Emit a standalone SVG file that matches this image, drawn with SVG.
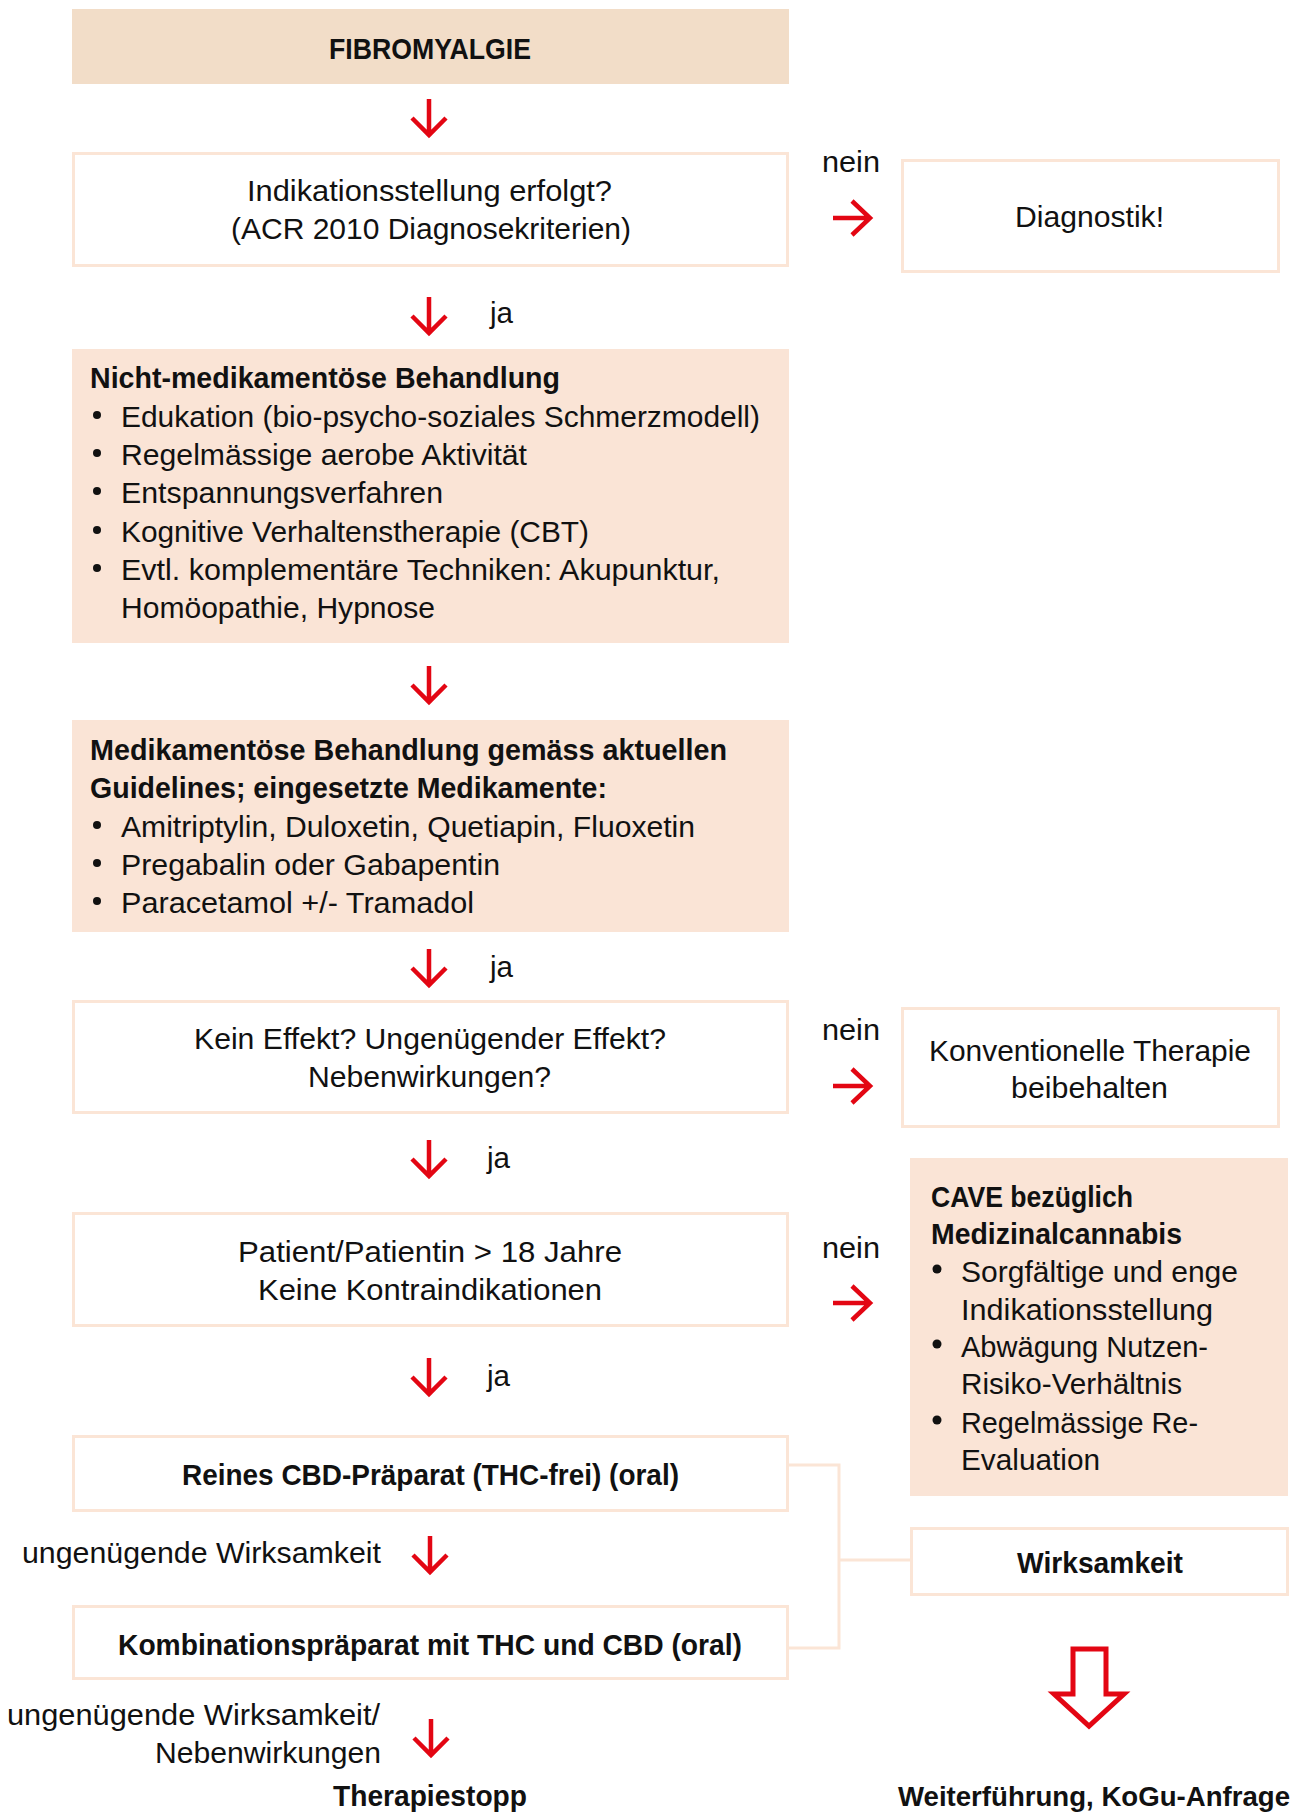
<svg xmlns="http://www.w3.org/2000/svg" xmlns:xlink="http://www.w3.org/1999/xlink" width="1305" height="1818" viewBox="0 0 1305 1818">
<style>
.t{font-family:"Liberation Sans",Arial,sans-serif;font-size:30px;fill:#111}
.b{font-weight:bold}
.box{fill:#fff;stroke:#fbe5d6;stroke-width:3}
.fill{fill:#fae4d6}
.head{fill:#f2ddc8}
.con{fill:none;stroke:#fbe5d6;stroke-width:3}
.arr{fill:none;stroke:#e30613;stroke-width:4.5}
.dot{fill:#111}
</style>
<defs>
<path id="ad" d="M0,0 V36 M-17,19 L0,36 L17,19"/>
<path id="ar" d="M0,0 H37 M19,-17 L37,0 L19,17"/>
</defs>
<rect width="1305" height="1818" fill="#fff"/>

<g id="connectors">
<polyline class="con" points="789,1465 839,1465 839,1648 789,1648"/>
<line class="con" x1="839" y1="1560" x2="911" y2="1560"/>
<g class="arr">
<use xlink:href="#ad" x="429" y="99"/>
<use xlink:href="#ad" x="429" y="297"/>
<use xlink:href="#ad" x="429" y="666"/>
<use xlink:href="#ad" x="429" y="949"/>
<use xlink:href="#ad" x="429" y="1140"/>
<use xlink:href="#ad" x="429" y="1358"/>
<use xlink:href="#ad" x="430" y="1536"/>
<use xlink:href="#ad" x="431" y="1719"/>
<use xlink:href="#ar" x="833" y="218"/>
<use xlink:href="#ar" x="833" y="1086"/>
<use xlink:href="#ar" x="833" y="1303"/>
</g>
<polygon points="1073,1649 1106,1649 1106,1694 1124,1694 1089,1726 1054,1694 1073,1694" fill="#fff" stroke="#e30613" stroke-width="5"/>
<text class="t" x="822" y="172" textLength="58" lengthAdjust="spacingAndGlyphs">nein</text>
<text class="t" x="490" y="323" textLength="23" lengthAdjust="spacingAndGlyphs">ja</text>
<text class="t" x="490" y="977" textLength="23" lengthAdjust="spacingAndGlyphs">ja</text>
<text class="t" x="822" y="1040" textLength="58" lengthAdjust="spacingAndGlyphs">nein</text>
<text class="t" x="487" y="1168" textLength="23" lengthAdjust="spacingAndGlyphs">ja</text>
<text class="t" x="822" y="1258" textLength="58" lengthAdjust="spacingAndGlyphs">nein</text>
<text class="t" x="487" y="1386" textLength="23" lengthAdjust="spacingAndGlyphs">ja</text>
<text class="t" x="22" y="1563" textLength="359" lengthAdjust="spacingAndGlyphs">ungenügende Wirksamkeit</text>
<text class="t" x="7" y="1725" textLength="373" lengthAdjust="spacingAndGlyphs">ungenügende Wirksamkeit/</text>
<text class="t" x="155" y="1763" textLength="226" lengthAdjust="spacingAndGlyphs">Nebenwirkungen</text>
</g>

<g id="fibromyalgie">
<rect class="head" x="72" y="9" width="717" height="75"/>
<text class="t b" x="329" y="59" textLength="202" lengthAdjust="spacingAndGlyphs">FIBROMYALGIE</text>
</g>

<g id="indikation">
<rect class="box" x="73.5" y="153.5" width="714" height="112"/>
<text class="t" x="247" y="201" textLength="365" lengthAdjust="spacingAndGlyphs">Indikationsstellung erfolgt?</text>
<text class="t" x="231" y="239" textLength="400" lengthAdjust="spacingAndGlyphs">(ACR 2010 Diagnosekriterien)</text>
</g>

<g id="diagnostik">
<rect class="box" x="902.5" y="160.5" width="376" height="111"/>
<text class="t" x="1015" y="227" textLength="149" lengthAdjust="spacingAndGlyphs">Diagnostik!</text>
</g>

<g id="nicht-medikamentoes">
<rect class="fill" x="72" y="349" width="717" height="294"/>
<text class="t b" x="90" y="388" textLength="470" lengthAdjust="spacingAndGlyphs">Nicht-medikamentöse Behandlung</text>
<circle class="dot" cx="97" cy="415" r="4"/>
<text class="t" x="121" y="427" textLength="639" lengthAdjust="spacingAndGlyphs">Edukation (bio-psycho-soziales Schmerzmodell)</text>
<circle class="dot" cx="97" cy="453" r="4"/>
<text class="t" x="121" y="465" textLength="406" lengthAdjust="spacingAndGlyphs">Regelmässige aerobe Aktivität</text>
<circle class="dot" cx="97" cy="491" r="4"/>
<text class="t" x="121" y="503" textLength="322" lengthAdjust="spacingAndGlyphs">Entspannungsverfahren</text>
<circle class="dot" cx="97" cy="530" r="4"/>
<text class="t" x="121" y="542" textLength="468" lengthAdjust="spacingAndGlyphs">Kognitive Verhaltenstherapie (CBT)</text>
<circle class="dot" cx="97" cy="568" r="4"/>
<text class="t" x="121" y="580" textLength="599" lengthAdjust="spacingAndGlyphs">Evtl. komplementäre Techniken: Akupunktur,</text>
<text class="t" x="121" y="618" textLength="314" lengthAdjust="spacingAndGlyphs">Homöopathie, Hypnose</text>
</g>

<g id="medikamentoes">
<rect class="fill" x="72" y="720" width="717" height="212"/>
<text class="t b" x="90" y="760" textLength="637" lengthAdjust="spacingAndGlyphs">Medikamentöse Behandlung gemäss aktuellen</text>
<text class="t b" x="90" y="798" textLength="517" lengthAdjust="spacingAndGlyphs">Guidelines; eingesetzte Medikamente:</text>
<circle class="dot" cx="97" cy="825" r="4"/>
<text class="t" x="121" y="837" textLength="574" lengthAdjust="spacingAndGlyphs">Amitriptylin, Duloxetin, Quetiapin, Fluoxetin</text>
<circle class="dot" cx="97" cy="863" r="4"/>
<text class="t" x="121" y="875" textLength="379" lengthAdjust="spacingAndGlyphs">Pregabalin oder Gabapentin</text>
<circle class="dot" cx="97" cy="901" r="4"/>
<text class="t" x="121" y="913" textLength="353" lengthAdjust="spacingAndGlyphs">Paracetamol +/- Tramadol</text>
</g>

<g id="kein-effekt">
<rect class="box" x="73.5" y="1001.5" width="714" height="111"/>
<text class="t" x="194" y="1049" textLength="472" lengthAdjust="spacingAndGlyphs">Kein Effekt? Ungenügender Effekt?</text>
<text class="t" x="308" y="1087" textLength="243" lengthAdjust="spacingAndGlyphs">Nebenwirkungen?</text>
</g>

<g id="konventionell">
<rect class="box" x="902.5" y="1008.5" width="376" height="118"/>
<text class="t" x="929" y="1061" textLength="322" lengthAdjust="spacingAndGlyphs">Konventionelle Therapie</text>
<text class="t" x="1011" y="1098" textLength="157" lengthAdjust="spacingAndGlyphs">beibehalten</text>
</g>

<g id="patient">
<rect class="box" x="73.5" y="1213.5" width="714" height="112"/>
<text class="t" x="238" y="1262" textLength="384" lengthAdjust="spacingAndGlyphs">Patient/Patientin &gt; 18 Jahre</text>
<text class="t" x="258" y="1300" textLength="344" lengthAdjust="spacingAndGlyphs">Keine Kontraindikationen</text>
</g>

<g id="cave">
<rect class="fill" x="910" y="1158" width="378" height="338"/>
<text class="t b" x="931" y="1207" textLength="202" lengthAdjust="spacingAndGlyphs">CAVE bezüglich</text>
<text class="t b" x="931" y="1244" textLength="251" lengthAdjust="spacingAndGlyphs">Medizinalcannabis</text>
<circle class="dot" cx="937" cy="1269" r="4.5"/>
<text class="t" x="961" y="1282" textLength="277" lengthAdjust="spacingAndGlyphs">Sorgfältige und enge</text>
<text class="t" x="961" y="1320" textLength="252" lengthAdjust="spacingAndGlyphs">Indikationsstellung</text>
<circle class="dot" cx="937" cy="1344" r="4.5"/>
<text class="t" x="961" y="1357" textLength="247" lengthAdjust="spacingAndGlyphs">Abwägung Nutzen-</text>
<text class="t" x="961" y="1394" textLength="221" lengthAdjust="spacingAndGlyphs">Risiko-Verhältnis</text>
<circle class="dot" cx="937" cy="1420" r="4.5"/>
<text class="t" x="961" y="1433" textLength="237" lengthAdjust="spacingAndGlyphs">Regelmässige Re-</text>
<text class="t" x="961" y="1470" textLength="139" lengthAdjust="spacingAndGlyphs">Evaluation</text>
</g>

<g id="cbd">
<rect class="box" x="73.5" y="1436.5" width="714" height="74"/>
<text class="t b" x="182" y="1485" textLength="497" lengthAdjust="spacingAndGlyphs">Reines CBD-Präparat (THC-frei) (oral)</text>
</g>

<g id="kombination">
<rect class="box" x="73.5" y="1606.5" width="714" height="72"/>
<text class="t b" x="118" y="1655" textLength="624" lengthAdjust="spacingAndGlyphs">Kombinationspräparat mit THC und CBD (oral)</text>
</g>

<g id="wirksamkeit">
<rect class="box" x="911.5" y="1528.5" width="376" height="66"/>
<text class="t b" x="1017" y="1573" textLength="166" lengthAdjust="spacingAndGlyphs">Wirksamkeit</text>
</g>

<g id="therapiestopp">
<text class="t b" x="333" y="1806" textLength="194" lengthAdjust="spacingAndGlyphs">Therapiestopp</text>
</g>

<g id="weiterfuehrung">
<text class="t b" x="898" y="1806" style="font-size:27.5px" textLength="392" lengthAdjust="spacingAndGlyphs">Weiterführung, KoGu-Anfrage</text>
</g>
</svg>
